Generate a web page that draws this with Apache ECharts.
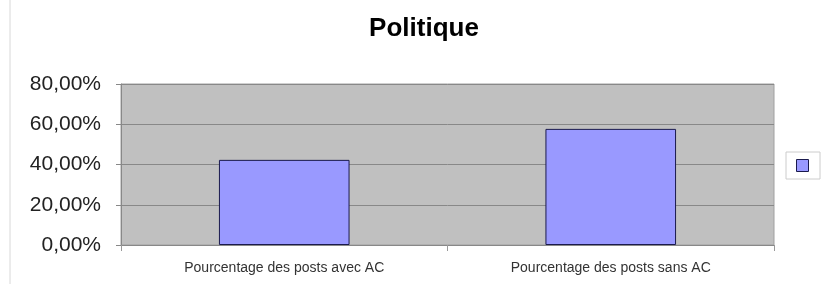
<!DOCTYPE html>
<html>
<head>
<meta charset="utf-8">
<script src="https://cdn.jsdelivr.net/npm/echarts@6/dist/echarts.min.js"></script>
<style>
html,body{margin:0;padding:0;background:#fff;}
#chart{width:836px;height:284px;}
</style>
</head>
<body>
<div id="chart"></div>
<script>
// valeurs (en %)
var categories = ['Pourcentage des posts avec AC', 'Pourcentage des posts sans AC']
var values = [42.3, 57.7]
var yTicks = [0, 20, 40, 60, 80]

var chart = echarts.init(document.getElementById('chart'))

var options = {
    animation: false,
    title: {
        text: 'Politique',
        left: 419,
        textAlign: 'center',
        top: 11,
        textStyle: {
            fontFamily: 'Liberation Sans',
            fontSize: 26,
            fontWeight: 'bold',
            color: '#000'
        }
    },
    legend: {
        data: ['Politique'],
        left: 786,
        top: 152,
        orient: 'vertical',
        itemWidth: 12,
        itemHeight: 12,
        itemGap: 0,
        padding: [7, 11, 7, 10],
        borderColor: '#cccccc',
        borderWidth: 1,
        backgroundColor: '#fff',
        icon: 'rect',
        formatter: function () { return '' },
        itemStyle: {
            color: '#9999ff',
            borderColor: '#1a1a4d',
            borderWidth: 1
        }
    },
    grid: {
        left: 121,
        right: 62,
        top: 84,
        bottom: 39,
        show: true,
        backgroundColor: '#c0c0c0',
        borderColor: '#a0a0a0',
        borderWidth: 1
    },
    xAxis: {
        type: 'category',
        data: categories,
        axisLine: { lineStyle: { color: '#888888', width: 1 } },
        axisTick: { show: true, length: 6, lineStyle: { color: '#999999' } },
        axisLabel: {
            margin: 16,
            fontFamily: 'Liberation Sans',
            fontSize: 14,
            color: '#333'
        }
    },
    yAxis: {
        type: 'value',
        min: yTicks[0],
        max: yTicks[yTicks.length - 1],
        interval: 20,
        axisLine: { show: true, lineStyle: { color: '#888888' } },
        axisTick: { show: true, length: 5, lineStyle: { color: '#888888' } },
        splitLine: { show: true, lineStyle: { color: '#888888', width: 1 } },
        axisLabel: {
            margin: 20,
            fontFamily: 'Liberation Sans',
            fontSize: 21,
            color: '#222',
            formatter: function (v) {
                return v.toFixed(2).replace('.', ',') + '%'
            }
        }
    },
    graphic: [{
        type: 'line',
        shape: { x1: 10, y1: 0, x2: 10, y2: 284 },
        style: { stroke: '#d8d8d8', lineWidth: 1 }
    }],
    series: [{
        name: 'Politique',
        type: 'bar',
        data: values,
        barWidth: '40%',
        itemStyle: {
            color: '#9999ff',
            borderColor: '#1a1a4d',
            borderWidth: 1
        }
    }]
}

chart.setOption(options)
</script>
</body>
</html>
